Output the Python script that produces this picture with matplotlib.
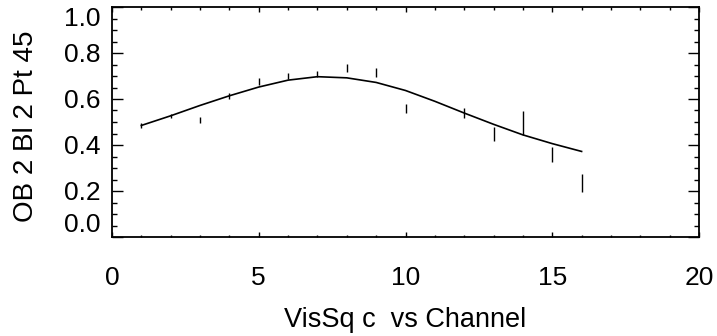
"""VisSq vs channel, model curve with measured points"""
import matplotlib
matplotlib.use('Agg')
import matplotlib.pyplot as plt
from matplotlib.ticker import MultipleLocator

plt.rcParams['font.family'] = ['Liberation Sans', 'DejaVu Sans']

# measured squared visibilities per channel (channel 11 missing)
chan = [1, 2, 3, 4, 5, 6, 7, 8, 9, 10, 12, 13, 14, 15, 16]
vis2 = [0.485, 0.527, 0.51, 0.614, 0.677, 0.70, 0.71, 0.735, 0.715, 0.560,
        0.539, 0.449, 0.495, 0.357, 0.235]
vis2_err = [0.010, 0.008, 0.013, 0.012, 0.014, 0.015, 0.013, 0.016, 0.019, 0.020,
            0.023, 0.030, 0.051, 0.033, 0.041]

# model curve
model_chan = list(range(1, 17))
model_vis2 = [0.485, 0.527, 0.572, 0.614, 0.652, 0.682, 0.697, 0.692, 0.672, 0.637,
              0.590, 0.539, 0.490, 0.444, 0.406, 0.372]

xticks = [0, 5, 10, 15, 20]
yticks = [0.0, 0.2, 0.4, 0.6, 0.8, 1.0]

fig = plt.figure(figsize=(7.17, 3.36), dpi=100)
ax = fig.add_axes([112 / 717, 99 / 336, 587 / 717, 230 / 336])

ax.plot(model_chan, model_vis2, color='black', lw=1.2)
ax.errorbar(chan, vis2, yerr=vis2_err, fmt='none', ecolor='black', elinewidth=1.0, capsize=0)

ax.set_xlim(0, 20)
ax.set_ylim(0, 1.0)
ax.set_xticks(xticks)
ax.set_xticklabels([str(t) for t in xticks])
ax.set_yticks(yticks)
ax.set_yticklabels([f'{t:.1f}' for t in yticks])
ax.xaxis.set_minor_locator(MultipleLocator(1))
ax.yaxis.set_minor_locator(MultipleLocator(0.05))

ax.tick_params(axis='x', which='major', direction='in', length=3.5, width=1.0,
               top=True, labelsize=19, pad=21)
ax.tick_params(axis='x', which='minor', direction='in', length=1.8, width=1.0, top=True)
ax.tick_params(axis='y', which='major', direction='in', length=8, width=1.0,
               right=True, labelsize=19, pad=8)
ax.tick_params(axis='y', which='minor', direction='in', length=3.6, width=1.0, right=True)

# end labels sit inside the axis range, like the original
ylabels = ax.get_yticklabels()
ylabels[0].set_va('bottom')
ylabels[-1].set_va('top')

for sp in ax.spines.values():
    sp.set_linewidth(1.3)

ax.set_xlabel('VisSq c  vs Channel', fontsize=19.5, labelpad=12)
ax.set_ylabel('OB 2 Bl 2 Pt 45', fontsize=20)
ax.yaxis.set_label_coords(-0.125, 0.48)

fig.savefig('out.png', dpi=100)
